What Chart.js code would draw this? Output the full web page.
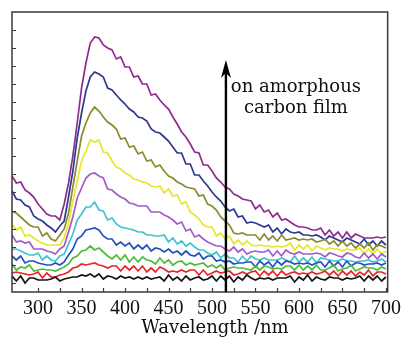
<!DOCTYPE html>
<html>
<head>
<meta charset="utf-8">
<script src="https://cdn.jsdelivr.net/npm/chart.js@4/dist/chart.umd.min.js"></script>
<style>
html,body{margin:0;padding:0;background:#fff;}
canvas{display:block;}
</style>
</head>
<body>
<canvas id="c" width="408" height="338"></canvas>
<script>
// Wavelength (nm)
const wavelengths = [270,275,280,285,290,295,300,305,310,315,
320,325,330,335,340,345,350,355,360,365,
370,375,380,385,390,395,400,405,410,415,
420,425,430,435,440,445,450,455,460,465,
470,475,480,485,490,495,500,505,510,515,
520,525,530,535,540,545,550,555,560,565,
570,575,580,585,590,595,600,605,610,615,
620,625,630,635,640,645,650,655,660,665,
670,675,680,685,690,695,700];

// PL intensity (a.u.), lowest curve to highest curve
const spectrum1 = [7,2,7,0,5,5,3,3,3,4, 6,2,4,5,6,6,8,7,9,6, 9,4,7,6,4,7,5,6,4,6, 4,6,4,5,6,2,8,3,6,2, 7,3,5,6,3,4,7,2,7,3, 7,1,6,3,8,5,3,5,4,5, 3,5,5,5,7,1,6,3,8,2, 6,4,3,6,5,5,3,5,4,5, 7,2,7,3,7,2,6];
const spectrum2 = [10,11,10,9,8,9,11,5,10,6, 6,8,9,11,15,16,19,18,19,20, 18,17,15,17,17,12,17,13,17,12, 17,11,15,11,16,14,11,12,11,13, 11,13,13,8,13,8,10,12,10,11, 12,8,9,11,9,11,12,7,12,8, 12,7,12,8,10,11,9,10,9,11, 9,10,12,8,12,7,12,8,12,7, 11,8,13,7,11,11,9];
const spectrum3 = [19,13,16,15,18,12,13,14,13,13, 12,14,16,19,25,27,32,33,37,33, 35,31,27,24,28,23,28,21,26,21, 26,23,22,19,25,20,23,18,21,22, 18,20,18,19,20,16,18,15,18,13, 15,16,15,15,14,13,17,13,17,16, 14,15,14,17,17,13,18,13,17,13, 18,13,13,15,18,12,14,15,18,12, 14,16,15,15,13,16,14];
const spectrum4 = [27,23,27,20,22,22,20,19,18,18, 20,18,21,28,34,44,47,53,54,55, 53,47,44,44,38,41,37,40,34,38, 34,38,32,35,34,31,34,30,32,28, 32,28,27,30,24,27,27,22,23,21, 22,19,20,20,21,21,16,22,18,21, 16,22,18,22,21,19,20,19,20,18, 20,21,16,22,17,21,16,22,17,20, 20,18,19,19,20,18,20];
const spectrum5 = [34,34,32,30,28,28,30,23,27,23, 22,27,29,39,49,63,69,76,76,81, 73,72,63,65,59,56,55,54,53,51, 51,48,48,47,47,48,41,45,39,42, 37,40,36,33,33,30,28,31,25,29, 25,25,21,27,22,27,24,23,25,23, 23,23,25,23,21,27,21,25,21,26, 20,25,24,23,22,22,24,22,22,21, 22,22,23,21,22,24,21];
const spectrum6 = [48,41,42,40,41,34,34,34,32,31, 29,34,37,51,66,85,95,105,109,110, 107,105,94,93,89,86,84,80,79,77, 77,77,71,71,71,68,66,63,59,61, 52,54,46,48,44,41,39,37,37,34, 32,36,31,34,29,31,32,31,31,33, 27,32,27,33,30,29,31,29,29,29, 30,29,26,30,29,27,26,30,29,26, 25,30,25,29,24,29,26];
const spectrum7 = [59,53,56,47,48,45,42,40,38,38, 38,38,45,60,82,102,122,132,143,141, 143,131,130,122,116,114,110,108,104,103, 101,100,97,96,97,90,94,87,88,79, 81,71,68,64,58,56,56,47,50,44, 47,39,43,38,42,38,37,38,37,37, 36,37,36,37,40,33,38,34,38,32, 37,35,33,35,34,34,32,34,33,33, 35,29,34,29,34,29,32];
const spectrum8 = [71,70,66,62,58,56,56,47,50,44, 42,48,54,70,96,122,147,160,170,176, 172,166,161,158,154,144,145,136,137,129, 131,122,123,116,118,112,107,105,101,99, 96,95,94,87,88,79,77,73,66,62, 58,50,49,50,48,48,48,43,49,43, 47,42,48,43,44,45,43,44,43,44, 41,42,44,39,42,37,42,37,40,35, 39,35,40,33,38,37,35];
const spectrum9 = [92,84,83,78,76,67,64,62,58,55, 51,57,62,86,112,145,170,192,206,211, 209,206,195,193,188,183,179,174,171,166, 165,162,154,151,150,146,142,136,130,130, 119,119,108,108,102,97,91,86,82,76, 72,74,66,67,60,61,60,58,56,58, 51,55,49,54,51,50,51,48,48,47, 48,46,43,47,45,43,41,45,43,41, 39,44,38,42,37,42,38];
const spectrum10 = [107,100,101,93,90,86,79,74,69,67, 67,63,79,100,127,160,195,220,240,246, 245,238,235,233,224,226,216,216,206,207, 199,199,188,189,183,178,174,166,159,151, 146,139,131,130,118,118,112,105,101,96, 94,89,87,84,83,82,74,78,71,73, 66,70,63,64,61,58,56,56,55,53, 53,55,48,53,47,51,45,51,45,49, 47,45,45,45,46,45,46];

const xTickLabels = [300,350,400,450,500,550,600,650,700];
const xTickMarks = [300,325,350,375,400,425,450,475,500,525,550,575,600,625,650,675,700];
const yTicks = [0,18.1,36.2,54.3,72.4,90.5,108.6,126.7,144.8,162.9,181,199.1,217.2,235.3,253.4];
const xTitle = 'Wavelength /nm';
const arrowAt = 516;
const arrowTop = 223;
const noteLines = ["on amorphous","carbon film"];
const noteY = [191,170];

const seriesList = [spectrum1,spectrum2,spectrum3,spectrum4,spectrum5,spectrum6,spectrum7,spectrum8,spectrum9,spectrum10];
const colors = ['#151515','#e8262a','#4fba3c','#2450c0','#3ec3d3','#a45ac8','#e6e62a','#8b8b2e','#2b3990','#8e2c8e'];

const datasets = seriesList.map((s,i)=>({
  label: 'spectrum ' + (i+1),
  data: wavelengths.map((w,j)=>({x:w, y:s[j]})),
  borderColor: colors[i],
  borderWidth: 1.7,
  pointRadius: 0,
  tension: 0,
  fill: false
}));

const framePlugin = {
  id: 'framePlugin',
  afterDatasetsDraw(chart){
    const ctx = chart.ctx, a = chart.chartArea, x = chart.scales.x, y = chart.scales.y;
    ctx.save();
    ctx.strokeStyle = '#3a3a3a';
    ctx.lineWidth = 1.5;
    ctx.strokeRect(a.left, a.top, a.right - a.left, a.bottom - a.top);
    ctx.lineWidth = 1.2;
    ctx.beginPath();
    xTickMarks.forEach(v=>{const px = Math.round(x.getPixelForValue(v))+0.5; ctx.moveTo(px, a.bottom); ctx.lineTo(px, a.bottom-4);});
    yTicks.forEach(v=>{const py = Math.round(y.getPixelForValue(v))+0.5; ctx.moveTo(a.left, py); ctx.lineTo(a.left+4, py);});
    ctx.stroke();
    // arrow
    const ax = x.getPixelForValue(arrowAt);
    const tip = y.getPixelForValue(arrowTop);
    ctx.strokeStyle = '#000';
    ctx.fillStyle = '#000';
    ctx.lineWidth = 2.4;
    ctx.beginPath();
    ctx.moveTo(ax, a.bottom);
    ctx.lineTo(ax, tip + 12);
    ctx.stroke();
    ctx.beginPath();
    ctx.moveTo(ax, tip);
    ctx.lineTo(ax + 5, tip + 18);
    ctx.lineTo(ax, tip + 13);
    ctx.lineTo(ax - 5, tip + 18);
    ctx.closePath();
    ctx.fill();
    // note
    ctx.font = '18px "DejaVu Serif"';
    ctx.textAlign = 'center';
    ctx.textBaseline = 'alphabetic';
    ctx.fillStyle = '#111';
    noteLines.forEach((t,i)=>{ ctx.fillText(t, ax + 70, y.getPixelForValue(noteY[i])); });
    // x-axis title
    ctx.fillText(xTitle, 215, 333);
    ctx.restore();
  }
};

new Chart(document.getElementById('c'), {
  type: 'line',
  data: { datasets },
  options: {
    responsive: false,
    devicePixelRatio: 1,
    animation: false,
    layout: { padding: { left: 12, top: 12, right: 16, bottom: 12 } },
    plugins: { legend: { display: false }, tooltip: { enabled: false } },
    scales: {
      x: {
        type: 'linear',
        min: 270,
        max: 702,
        grid: { display: false, drawTicks: false },
        border: { display: false },
        afterBuildTicks: (s) => { s.ticks = xTickLabels.map(v=>({value:v})); },
        ticks: {
          padding: 7,
          color: '#111',
          maxRotation: 0,
          autoSkip: false,
          font: { family: '"Liberation Serif"', size: 20, lineHeight: 1 }
        }
      },
      y: {
        type: 'linear',
        min: -9,
        max: 271,
        grid: { display: false, drawTicks: false },
        border: { display: false },
        afterBuildTicks: (s) => { s.ticks = yTicks.map(v=>({value:v})); },
        ticks: { display: false }
      }
    }
  },
  plugins: [framePlugin]
});
</script>
</body>
</html>
